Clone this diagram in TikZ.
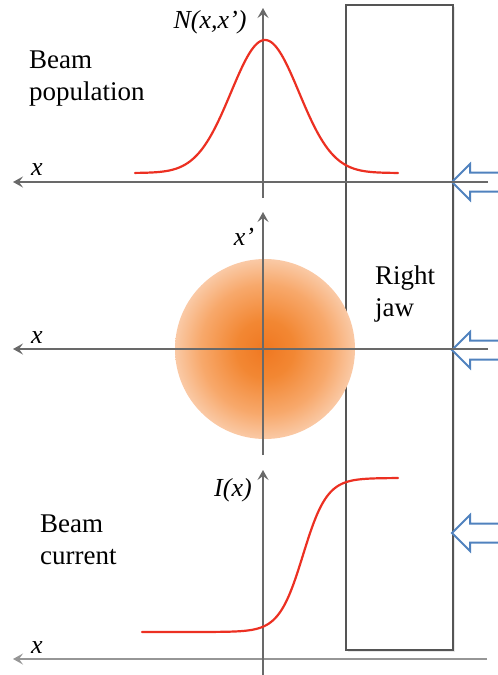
\documentclass[tikz,border=0pt]{standalone}
\usepackage{fontspec}
\setmainfont{Liberation Serif}
\usetikzlibrary{arrows.meta,shadows}
\pgfdeclareradialshading{beamshade}{\pgfpoint{0bp}{0bp}}{rgb(0bp)=(0.94,0.47,0.13); rgb(8bp)=(0.95,0.53,0.20); rgb(18bp)=(0.97,0.66,0.42); rgb(25bp)=(0.98,0.79,0.65); rgb(50bp)=(0.98,0.79,0.65)}
\definecolor{axisgray}{RGB}{105,105,105}
\definecolor{axislight}{RGB}{150,150,150}
\definecolor{curvered}{RGB}{236,48,34}
\definecolor{arrowblue}{RGB}{80,130,190}
\definecolor{jawgray}{RGB}{85,85,85}
\tikzset{
  axis/.style={draw=axisgray, line width=1.6pt, -{Stealth[length=10pt,width=11pt,inset=4pt]}},
  curve/.style={draw=curvered, line width=2.2pt, line cap=round, line join=round},
  blockarrow/.style={draw=arrowblue, fill=white, line width=2pt, line join=miter},
  jawbox/.style={draw=jawgray, fill=white, line width=1.5pt, drop shadow={shadow xshift=2pt, shadow yshift=-2pt, opacity=0.18, fill=black!50}},
  lbl/.style={font=\fontsize{27}{32}\selectfont, inner sep=0pt, align=left},
  axlbl/.style={font=\fontsize{26}{30}\selectfont\itshape, inner sep=0pt}
}
\begin{document}
\begin{tikzpicture}[x=1pt,y=-1pt]
\useasboundingbox (0,0) rectangle (498,675);
% jaw
\draw[jawbox] (346,5) rectangle (453,650);
% block arrows
\foreach \yy/\nm in {182/ta,350/ma,533/ba}{
  \draw[blockarrow] (452,\yy) -- (470,\yy-18) -- (470,\yy-9.5) -- (505,\yy-9.5)
     -- (505,\yy+9.5) -- (470,\yy+9.5) -- (470,\yy+18) -- cycle;
}
% coordinates
\coordinate (t1) at (488,182); \coordinate (t2) at (13,182);
\coordinate (tv1) at (263,198); \coordinate (tv2) at (263,8);
\coordinate (m1) at (488,349); \coordinate (m2) at (13,349);
\coordinate (mv1) at (263,455); \coordinate (mv2) at (263,212);
\coordinate (b1) at (487,659); \coordinate (b2) at (13,659);
\coordinate (bv1) at (263,680); \coordinate (bv2) at (263,470);
% beam spot
\node[circle, minimum size=180pt, inner sep=0pt, shading=beamshade] (spot) at (265,349) {};
% axes
\draw[axis] (t1) -- (t2);
\draw[axis] (tv1) -- (tv2);
\draw[axis] (m1) -- (m2);
\draw[axis] (mv1) -- (mv2);
\draw[axis, draw=axislight] (b1) -- (b2);
\draw[axis] (bv1) -- (bv2);
% curves
\draw[curve] plot[domain=135:398, samples=150] (\x, {173-133*exp(-0.5*((\x-265)/34)^2)});
\draw[curve] plot[domain=142:398, samples=160] (\x, {632-154/(1+exp(min(9,(303-\x)/12)))});
% labels
\node[lbl, anchor=west] (pop) at (29,79) {Beam\\population};
\node[lbl, anchor=west] (cur) at (40,540) {Beam\\current};
\node[lbl, anchor=west] (jaw) at (375,294) {Right\\jaw};
\node[axlbl] (nlab) at (210,22) {N(x,x’)};
\node[axlbl] (ilab) at (233,490) {I(x)};
\node[axlbl] (xplab) at (244,237) {x’};
\node[axlbl] (xt) at (37,170) {x};
\node[axlbl] (xm) at (37,338) {x};
\node[axlbl] (xb) at (37,648) {x};
\end{tikzpicture}
\end{document}
